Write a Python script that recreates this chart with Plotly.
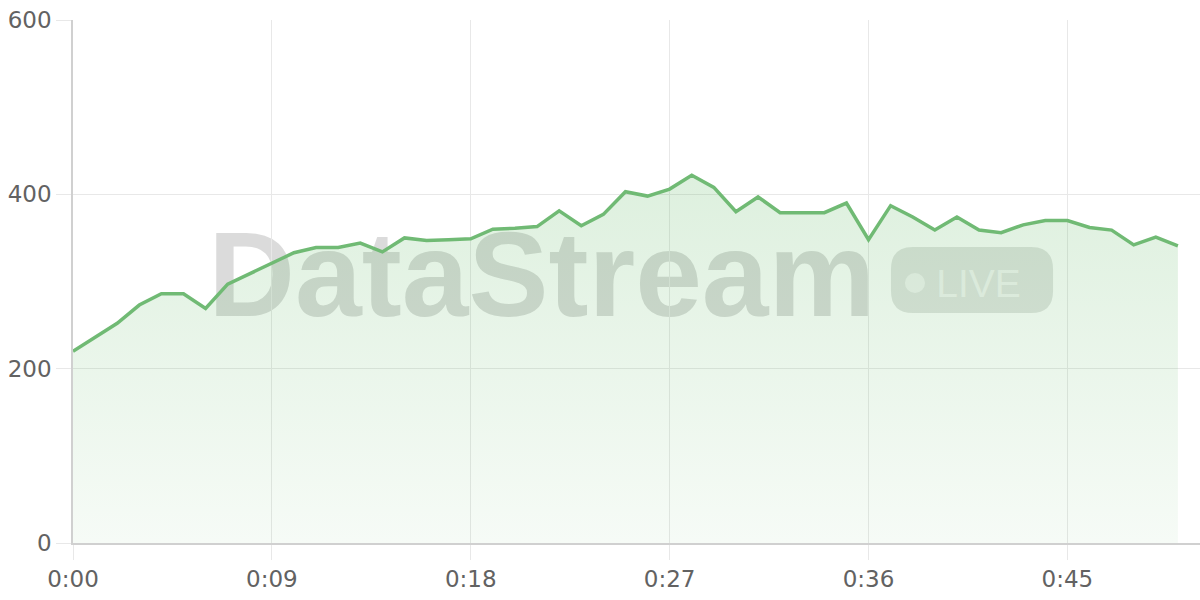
import plotly.graph_objects as go

# seconds since start, one sample per second
seconds = list(range(51))
values = [
    220, 236, 252, 273, 286, 286, 269, 297, 309, 320,
    333, 339, 339, 344, 334, 350, 347, 348, 349, 360,
    361, 363, 381, 364, 377, 403, 398, 406, 422, 408,
    380, 397, 379, 379, 379, 390, 348, 387, 374, 359,
    374, 359, 356, 365, 370, 370, 362, 359, 342, 351,
    341,
]

tick_seconds = [0, 9, 18, 27, 36, 45]
tick_labels = [f"{s // 60}:{s % 60:02d}" for s in tick_seconds]
y_ticks = [0, 200, 400, 600]

LINE = "#70ba74"
GRID = "#e8e8e8"
WATERMARK = "rgba(110,110,110,0.25)"

fig = go.Figure()
fig.add_trace(go.Scatter(
    x=seconds,
    y=values,
    mode="lines",
    line={"color": LINE, "width": 3.5},
    fill="tozeroy",
    fillgradient={
        "type": "vertical",
        "start": 0,
        "stop": 430,
        "colorscale": [
            [0, "rgba(76,175,80,0.05)"],
            [1, "rgba(76,175,80,0.19)"],
        ],
    },
    hoverinfo="skip",
    showlegend=False,
))

# watermark, drawn under the trace
fig.add_shape(
    type="rect", xref="paper", yref="paper", layer="below",
    x0=0.116, x1=0.716, y0=0.415, y1=0.655,
    line={"width": 0}, fillcolor="rgba(0,0,0,0)",
    label={
        "text": "DataStream",
        "font": {"family": "Liberation Sans", "size": 120, "color": WATERMARK, "weight": "bold"},
        "textposition": "middle center",
    },
)
fig.add_shape(
    type="path", xref="paper", yref="paper", layer="below",
    path=(
        "M 0.7453,0.4398 L 0.8501,0.4398 Q 0.8696,0.4398 0.8696,0.4819 "
        "L 0.8696,0.5239 Q 0.8696,0.5660 0.8501,0.5660 L 0.7453,0.5660 "
        "Q 0.7258,0.5660 0.7258,0.5239 L 0.7258,0.4819 Q 0.7258,0.4398 0.7453,0.4398 Z"
    ),
    line={"width": 0}, fillcolor="rgba(110,120,110,0.2)",
)
fig.add_shape(
    type="circle", xref="paper", yref="paper", layer="below",
    x0=0.7382, x1=0.7560, y0=0.4780, y1=0.5162,
    line={"width": 0}, fillcolor="rgba(255,255,255,0.55)",
)
fig.add_shape(
    type="rect", xref="paper", yref="paper", layer="below",
    x0=0.7635, x1=0.8435, y0=0.45, y1=0.556,
    line={"width": 0}, fillcolor="rgba(0,0,0,0)",
    label={
        "text": "LIVE",
        "font": {"family": "Liberation Sans", "size": 39, "color": "rgba(255,255,255,0.6)"},
        "textposition": "middle center",
    },
)

axis_style = {
    "showgrid": True,
    "gridcolor": GRID,
    "zeroline": False,
    "showline": True,
    "linecolor": "#d0d0d0",
    "linewidth": 1.5,
    "ticks": "outside",
    "ticklen": 15,
    "tickcolor": GRID,
    "automargin": False,
    "ticklabeloverflow": "allow",
    "fixedrange": True,
}

fig.update_layout(
    width=1200,
    height=600,
    margin={"l": 73, "r": 0, "t": 20, "b": 57},
    paper_bgcolor="white",
    plot_bgcolor="white",
    font={"family": "DejaVu Sans", "size": 23, "color": "#626262"},
    xaxis={"range": [0, 51], "tickvals": tick_seconds, "ticktext": tick_labels, **axis_style},
    yaxis={"range": [0, 600], "tickvals": y_ticks, **axis_style},
)

# drop the default page margin so the figure fills the window
fig.write_html(
    "out.html",
    config={"displayModeBar": False},
    post_script="document.body.style.margin = '0';",
)
